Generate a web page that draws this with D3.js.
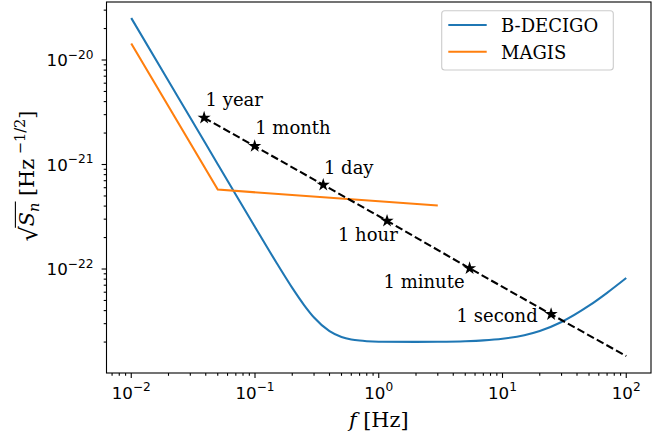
<!DOCTYPE html>
<html>
<head>
<meta charset="utf-8">
<script src="https://cdn.jsdelivr.net/npm/d3@7"></script>
<style>
  html, body { margin: 0; padding: 0; background: #fff; }
  svg { display: block; }
</style>
</head>
<body>
<div id="chart"></div>
<script>
// --- data ---
const bdecigoFreq = [0.01, 0.02, 0.03, 0.05, 0.07, 0.1, 0.15, 0.2, 0.25, 0.3, 0.4, 0.5, 0.6, 0.7, 0.8, 1, 2, 3, 5, 7, 10, 15, 20, 30, 50, 70, 100];
const bdecigoAsd = [2.52e-20, 6.29e-21, 2.80e-21, 1.007e-21, 5.14e-22, 2.525e-22, 1.136e-22, 6.60e-23, 4.50e-23, 3.44e-23, 2.545e-23, 2.239e-23, 2.119e-23, 2.066e-23, 2.039e-23, 2.017e-23, 2.007e-23, 2.014e-23, 2.039e-23, 2.076e-23, 2.153e-23, 2.329e-23, 2.556e-23, 3.115e-23, 4.454e-23, 5.92e-23, 8.207e-23];

const magisFreq = [0.01, 0.05, 3];
const magisAsd = [1.44e-20, 5.75e-22, 4.05e-22];

// time-to-merger markers on the chirp track
const chirpLabels = ["1 year", "1 month", "1 day", "1 hour", "1 minute", "1 second"];
const chirpFreq = [0.0388, 0.0994, 0.356, 1.167, 5.42, 24.7];
const chirpAsd = [2.80e-21, 1.50e-21, 6.39e-22, 2.89e-22, 1.016e-22, 3.69e-23];
const chirpEndFreq = 100;
const chirpEndAsd = 1.47e-23;

const xTickExps = [-2, -1, 0, 1, 2];
const yTickExps = [-20, -21, -22];

// --- layout ---
const width = 672, height = 436;
const plot = { left: 106.5, right: 651, top: 2, bottom: 373 };
const serif = "'DejaVu Serif', serif";
const sans = "'DejaVu Sans', sans-serif";
const tickFs = 16.7;   // tick labels
const textFs = 18;     // annotations + legend
const labelFs = 20.8;  // axis labels

const svg = d3.select("#chart").append("svg")
  .attr("width", width)
  .attr("height", height);

const x = d3.scaleLog()
  .domain([Math.pow(10, -2.2), Math.pow(10, 2.2)])
  .range([plot.left, plot.right]);

const y = d3.scaleLog()
  .domain([Math.pow(10, -22.995), Math.pow(10, -19.445)])
  .range([plot.bottom, plot.top]);

svg.append("clipPath").attr("id", "clip")
  .append("rect")
  .attr("x", plot.left).attr("y", plot.top)
  .attr("width", plot.right - plot.left)
  .attr("height", plot.bottom - plot.top);

const straight = d3.line()
  .x(d => x(d[0]))
  .y(d => y(d[1]));

const curves = svg.append("g").attr("clip-path", "url(#clip)");

// B-DECIGO
curves.append("path")
  .datum(d3.zip(bdecigoFreq, bdecigoAsd))
  .attr("d", d3.line().x(d => x(d[0])).y(d => y(d[1])).curve(d3.curveMonotoneX))
  .attr("fill", "none")
  .attr("stroke", "#1f77b4")
  .attr("stroke-width", 2.08);

// MAGIS
curves.append("path")
  .datum(d3.zip(magisFreq, magisAsd))
  .attr("d", straight)
  .attr("fill", "none")
  .attr("stroke", "#ff7f0e")
  .attr("stroke-width", 2.08);

// chirp track
const chirpPts = d3.zip(chirpFreq, chirpAsd).concat([[chirpEndFreq, chirpEndAsd]]);
curves.append("path")
  .datum(chirpPts)
  .attr("d", straight)
  .attr("fill", "none")
  .attr("stroke", "#000")
  .attr("stroke-width", 2.08)
  .attr("stroke-dasharray", "7.7,3.3");

const star = d3.symbol().type(d3.symbolStar).size(54);
svg.append("g").selectAll("path")
  .data(d3.zip(chirpFreq, chirpAsd))
  .enter().append("path")
  .attr("d", star)
  .attr("transform", d => `translate(${x(d[0])},${y(d[1])})`)
  .attr("fill", "#000");

// label placement relative to each star (px)
const labelOffsets = [
  { dx: 1.5, dy: -11.5, anchor: "start" },
  { dx: 0.5, dy: -11.7, anchor: "start" },
  { dx: 0.7, dy: -11.3, anchor: "start" },
  { dx: 10.7, dy: 20.4, anchor: "end" },
  { dx: -5, dy: 19.4, anchor: "end" },
  { dx: -13.4, dy: 7.4, anchor: "end" }
];

svg.append("g").selectAll("text")
  .data(chirpLabels)
  .enter().append("text")
  .attr("x", (d, i) => x(chirpFreq[i]) + labelOffsets[i].dx)
  .attr("y", (d, i) => y(chirpAsd[i]) + labelOffsets[i].dy)
  .attr("text-anchor", (d, i) => labelOffsets[i].anchor)
  .style("font-family", serif)
  .style("font-size", textFs + "px")
  .text(d => d);

// --- axes ---
const axes = svg.append("g").attr("stroke", "#000").attr("stroke-width", 1.1);

function minorTicks(scale) {
  const [a, b] = scale.domain();
  const out = [];
  for (let e = Math.floor(Math.log10(a)); e <= Math.ceil(Math.log10(b)); e++) {
    for (let m = 2; m <= 9; m++) {
      const v = m * Math.pow(10, e);
      if (v >= a && v <= b) out.push(v);
    }
  }
  return out;
}

// x ticks
minorTicks(x).forEach(v => {
  axes.append("line")
    .attr("x1", x(v)).attr("x2", x(v))
    .attr("y1", plot.bottom).attr("y2", plot.bottom + 2.8);
});
xTickExps.forEach(e => {
  const px = x(Math.pow(10, e));
  axes.append("line")
    .attr("x1", px).attr("x2", px)
    .attr("y1", plot.bottom).attr("y2", plot.bottom + 4.9);
  const t = svg.append("text")
    .attr("x", px)
    .attr("y", 398.5)
    .attr("text-anchor", "middle")
    .style("font-family", sans)
    .style("font-size", tickFs + "px");
  t.append("tspan").text("10");
  t.append("tspan").attr("dy", -7.6).style("font-size", "12.2px")
    .text(e < 0 ? "\u2212" + (-e) : String(e));
});

// y ticks
minorTicks(y).forEach(v => {
  axes.append("line")
    .attr("x1", plot.left - 2.8).attr("x2", plot.left)
    .attr("y1", y(v)).attr("y2", y(v));
});
yTickExps.forEach(e => {
  const py = y(Math.pow(10, e));
  axes.append("line")
    .attr("x1", plot.left - 4.9).attr("x2", plot.left)
    .attr("y1", py).attr("y2", py);
  const t = svg.append("text")
    .attr("x", 93.5)
    .attr("y", py + 6.4)
    .attr("text-anchor", "end")
    .style("font-family", sans)
    .style("font-size", tickFs + "px");
  t.append("tspan").text("10");
  t.append("tspan").attr("dy", -7.6).style("font-size", "12.2px")
    .text("\u2212" + (-e));
});

// frame
svg.append("rect")
  .attr("x", plot.left).attr("y", plot.top)
  .attr("width", plot.right - plot.left)
  .attr("height", plot.bottom - plot.top)
  .attr("fill", "none")
  .attr("stroke", "#000")
  .attr("stroke-width", 1.1);

// x label
const xl = svg.append("text")
  .attr("x", (plot.left + plot.right) / 2)
  .attr("y", 427)
  .attr("text-anchor", "middle")
  .style("font-family", serif)
  .style("font-size", labelFs + "px");
xl.append("tspan").style("font-style", "italic").text("f");
xl.append("tspan").text(" [Hz]");

// y label: sqrt(S_n) [Hz^{-1/2}]
const yl = svg.append("g")
  .attr("transform", `translate(34,176) rotate(-90)`);
const ylt = yl.append("text")
  .attr("x", 0).attr("y", 0)
  .style("font-family", serif)
  .style("font-size", labelFs + "px");
ylt.append("tspan").style("font-size", (labelFs * 1.15) + "px").attr("dy", 2.5).text("\u221A");
ylt.append("tspan").attr("dy", -2.5).style("font-style", "italic").text("S");
ylt.append("tspan").style("font-style", "italic").style("font-size", "14.5px").attr("dy", 4.5).text("n");
ylt.append("tspan").attr("dy", -4.5).text(" [Hz");
ylt.append("tspan").style("font-size", "14.5px").attr("dy", -9).text(" \u2212" + "1/2");
ylt.append("tspan").attr("dy", 9).text("]");
// centre the label and draw the radical bar over S_n
const node = ylt.node();
const total = node.getComputedTextLength();
ylt.attr("x", -total / 2);
const barStart = node.getEndPositionOfChar(0).x;
const barEnd = node.getEndPositionOfChar(2).x;
yl.append("line")
  .attr("x1", barStart - 1.5).attr("x2", barEnd + 1)
  .attr("y1", -18.6).attr("y2", -18.6)
  .attr("stroke", "#000").attr("stroke-width", 1.1);

// legend
const lg = svg.append("g");
lg.append("rect")
  .attr("x", 441.7).attr("y", 10.7)
  .attr("width", 171.6).attr("height", 59.3)
  .attr("rx", 3)
  .attr("fill", "#fff").attr("fill-opacity", 0.8)
  .attr("stroke", "#cccccc").attr("stroke-width", 1.1);
const legendItems = [
  { name: "B-DECIGO", color: "#1f77b4" },
  { name: "MAGIS", color: "#ff7f0e" }
];
legendItems.forEach((it, i) => {
  const ly = 25 + i * 26.7;
  lg.append("line")
    .attr("x1", 448.3).attr("x2", 486.7)
    .attr("y1", ly).attr("y2", ly)
    .attr("stroke", it.color).attr("stroke-width", 2.08);
  lg.append("text")
    .attr("x", 501).attr("y", ly + 7)
    .style("font-family", serif)
    .style("font-size", textFs + "px")
    .text(it.name);
});
</script>
</body>
</html>
